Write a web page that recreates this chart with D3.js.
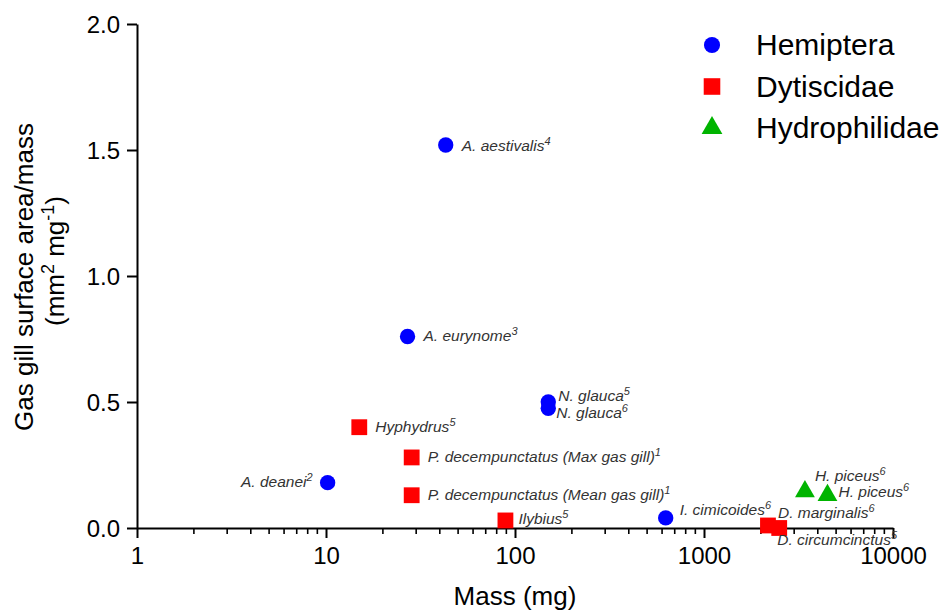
<!DOCTYPE html>
<html>
<head>
<meta charset="utf-8">
<script src="https://cdn.jsdelivr.net/npm/d3@7"></script>
<style>
  body { margin: 0; background: #fff; }
  svg { font-family: "Liberation Sans", Arial, sans-serif; }
  .tick-label { font-size: 24px; fill: #000; }
  .axis-title { font-size: 26px; fill: #000; }
  .pt-label { font-size: 15.5px; font-style: italic; fill: #333; }
  .legend-text { font-size: 30px; fill: #000; }
</style>
</head>
<body>
<script>
// groups
const groups = ['Hemiptera', 'Dytiscidae', 'Hydrophilidae'];
const groupColors = ['#0000ff', '#ff0000', '#00b400'];

// Hemiptera
const hemNames = ['A. aestivalis', 'A. eurynome', 'N. glauca', 'N. glauca', 'A. deanei', 'I. cimicoides'];
const hemRefs = ['4', '3', '5', '6', '2', '6'];
const hemMass = [43, 27, 150, 150, 10.2, 627];
const hemArea = [1.52, 0.76, 0.50, 0.475, 0.18, 0.04];

// Dytiscidae
const dytNames = ['Hyphydrus', 'P. decempunctatus (Max gas gill)', 'P. decempunctatus (Mean gas gill)', 'Ilybius', 'D. marginalis', 'D. circumcinctus'];
const dytRefs = ['5', '1', '1', '5', '6', '5'];
const dytMass = [15, 28.4, 28.4, 89, 2180, 2500];
const dytArea = [0.40, 0.28, 0.13, 0.03, 0.01, 0.0];

// Hydrophilidae
const hydNames = ['H. piceus', 'H. piceus'];
const hydRefs = ['6', '6'];
const hydMass = [3420, 4500];
const hydArea = [0.145, 0.13];

const xTicks = [1, 10, 100, 1000, 10000];
const yTicks = [0, 0.5, 1.0, 1.5, 2.0];

// label placement (dx, dy, anchor) per point, same order as above
const hemPlace = [[16, 6, 'start'], [16, 5, 'start'], [10, -1, 'start'], [8, 10, 'start'], [-15, 4, 'end'], [14, -3, 'start']];
const dytPlace = [[16, 5, 'start'], [16, 5, 'start'], [16, 5, 'start'], [13, 4, 'start'], [10, -7, 'start'], [-2, 17, 'start']];
const hydPlace = [[10, -10, 'start'], [11, 2, 'start']];

const W = 950, H = 614;
const svg = d3.select('body').append('svg').attr('width', W).attr('height', H);

const x = d3.scaleLog().domain([1, 10000]).range([137, 893]);
const y = d3.scaleLinear().domain([0, 2]).range([528, 24]);

// x axis with minor ticks
const minor = [];
for (let d = 1; d < 10000; d *= 10) for (let k = 2; k <= 9; k++) minor.push(d * k);

const xAxis = svg.append('g').attr('transform', `translate(0,${y(0)})`);
xAxis.call(d3.axisBottom(x).tickValues(xTicks).tickSize(10).tickSizeOuter(0).tickFormat(d3.format('d')).tickPadding(6));
xAxis.append('g').selectAll('line').data(minor).join('line')
  .attr('x1', d => x(d)).attr('x2', d => x(d)).attr('y1', 0).attr('y2', 6)
  .attr('stroke', '#000').attr('stroke-width', 1.6);

const yAxis = svg.append('g').attr('transform', `translate(${x(1)},0)`);
yAxis.call(d3.axisLeft(y).tickValues(yTicks).tickSize(10).tickSizeOuter(0).tickFormat(d3.format('.1f')).tickPadding(7));

[xAxis, yAxis].forEach(a => {
  a.select('.domain').attr('stroke', '#000').attr('stroke-width', 2);
  a.selectAll('.tick line').attr('stroke', '#000').attr('stroke-width', 2);
  a.selectAll('.tick text').attr('class', 'tick-label').attr('font-size', null).attr('font-family', null);
});
xAxis.selectAll('.tick text').attr('dy', '0.85em');
yAxis.selectAll('.tick text').attr('dy', '0.36em');

// axis titles
svg.append('text').attr('class', 'axis-title').attr('x', 515).attr('y', 605)
  .attr('text-anchor', 'middle').text('Mass (mg)');

svg.append('text').attr('class', 'axis-title')
  .attr('transform', 'translate(33,277) rotate(-90)')
  .attr('font-size', 27).attr('text-anchor', 'middle').text('Gas gill surface area/mass');
const yt2 = svg.append('text').attr('class', 'axis-title')
  .attr('transform', 'translate(64,261) rotate(-90)')
  .attr('font-size', 27).attr('text-anchor', 'middle');
yt2.append('tspan').text('(mm');
yt2.append('tspan').attr('dy', -10).attr('font-size', 18).text('2');
yt2.append('tspan').attr('dy', 10).text(' mg');
yt2.append('tspan').attr('dy', -10).attr('font-size', 18).text('-1');
yt2.append('tspan').attr('dy', 10).text(')');

// markers
const symbols = [d3.symbolCircle, d3.symbolSquare, d3.symbolTriangle];
const symSizes = [185, 250, 170];

function series(names, refs, mass, area, place, gi) {
  const pts = names.map((n, i) => ({ name: n, ref: refs[i], m: mass[i], a: area[i], p: place[i] }));
  const g = svg.append('g');
  g.selectAll('path').data(pts).join('path')
    .attr('d', d3.symbol().type(symbols[gi]).size(symSizes[gi]))
    .attr('transform', d => `translate(${x(d.m)},${y(d.a)})`)
    .attr('fill', groupColors[gi]);
  const t = g.selectAll('text').data(pts).join('text')
    .attr('class', 'pt-label')
    .attr('x', d => x(d.m) + d.p[0]).attr('y', d => y(d.a) + d.p[1])
    .attr('text-anchor', d => d.p[2]);
  t.append('tspan').text(d => d.name);
  t.append('tspan').attr('dy', -6).attr('font-size', 11).text(d => d.ref);
}
series(hemNames, hemRefs, hemMass, hemArea, hemPlace, 0);
series(dytNames, dytRefs, dytMass, dytArea, dytPlace, 1);
series(hydNames, hydRefs, hydMass, hydArea, hydPlace, 2);

// legend
const leg = svg.append('g').selectAll('g').data(groups).join('g')
  .attr('transform', (d, i) => `translate(712,${45 + i * 41.5})`);
leg.append('path')
  .attr('d', (d, i) => d3.symbol().type(symbols[i]).size(symSizes[i] * 1.1)())
  .attr('fill', (d, i) => groupColors[i]);
leg.append('text').attr('class', 'legend-text').attr('x', 44).attr('y', 10).text(d => d);
</script>
</body>
</html>
